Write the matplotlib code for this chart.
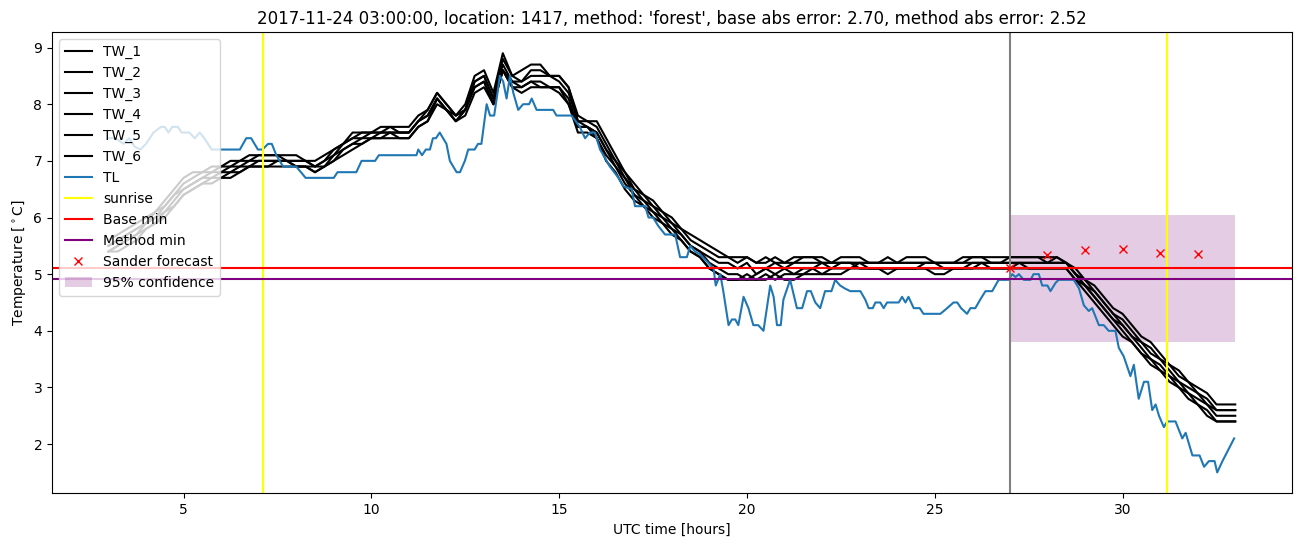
import numpy as np
import matplotlib
matplotlib.use('Agg')
import matplotlib.pyplot as plt

# water temperature sensors, sampled every 15 minutes (UTC hours)
tw_hours = np.arange(3.0, 33.01, 0.25)

tw_1 = [5.6, 5.7, 5.8, 5.9, 6.0, 6.1, 6.3, 6.5, 6.7, 6.8, 6.8, 6.9, 6.9,
        7.0, 7.0, 7.1, 7.1, 7.1, 7.1, 7.1, 7.1, 7.0, 7.0, 7.1,
        7.2, 7.3, 7.5, 7.5, 7.5, 7.6, 7.6, 7.6, 7.6,
        7.8, 7.9, 8.2, 8.0, 7.8, 8.0, 8.5, 8.6, 8.2, 8.9, 8.5, 8.6, 8.7, 8.7, 8.5, 8.5, 8.3,
        7.8, 7.7, 7.7, 7.4, 7.1, 6.8, 6.6, 6.4, 6.3, 6.1, 6.0, 5.8, 5.7, 5.6, 5.5, 5.4, 5.3,
        5.3, 5.3, 5.2, 5.3, 5.2, 5.2, 5.3, 5.3, 5.3, 5.3, 5.2, 5.3, 5.3, 5.3, 5.2, 5.2, 5.2, 5.2,
        5.3, 5.3, 5.3, 5.2, 5.2, 5.2, 5.3, 5.3, 5.3, 5.3, 5.3, 5.3, 5.3, 5.3, 5.3, 5.3, 5.3, 5.2,
        5.1, 4.9, 4.8, 4.6, 4.4, 4.3, 4.1, 3.9, 3.8, 3.6, 3.4, 3.3, 3.1, 3.0, 2.9, 2.7, 2.7, 2.7]
tw_2 = [5.5, 5.6, 5.7, 5.8, 5.9, 6.1, 6.2, 6.4, 6.6, 6.7, 6.8, 6.8, 6.9,
        6.9, 7.0, 7.0, 7.1, 7.1, 7.1, 7.0, 7.0, 7.0, 6.9, 7.0,
        7.2, 7.3, 7.4, 7.5, 7.5, 7.5, 7.6, 7.5, 7.5,
        7.7, 7.9, 8.2, 8.0, 7.8, 7.9, 8.4, 8.5, 8.1, 8.8, 8.5, 8.4, 8.6, 8.6, 8.5, 8.5, 8.3,
        7.7, 7.7, 7.6, 7.3, 7.0, 6.8, 6.5, 6.4, 6.2, 6.1, 5.9, 5.8, 5.6, 5.5, 5.4, 5.3, 5.3,
        5.2, 5.3, 5.2, 5.2, 5.3, 5.2, 5.2, 5.3, 5.3, 5.2, 5.2, 5.2, 5.2, 5.2, 5.2, 5.2, 5.3, 5.2,
        5.2, 5.2, 5.2, 5.2, 5.2, 5.2, 5.2, 5.3, 5.3, 5.2, 5.2, 5.3, 5.3, 5.3, 5.3, 5.2, 5.3, 5.2,
        5.0, 4.9, 4.7, 4.5, 4.3, 4.2, 4.0, 3.8, 3.7, 3.5, 3.4, 3.2, 3.1, 2.9, 2.8, 2.6, 2.6, 2.6]
tw_3 = [5.5, 5.6, 5.7, 5.8, 5.9, 6.0, 6.2, 6.4, 6.5, 6.6, 6.7, 6.8, 6.8,
        6.9, 6.9, 7.0, 7.0, 7.0, 7.0, 7.0, 7.0, 7.0, 6.9, 7.0,
        7.1, 7.3, 7.4, 7.4, 7.5, 7.5, 7.5, 7.5, 7.5,
        7.7, 7.8, 8.1, 7.9, 7.8, 7.9, 8.4, 8.5, 8.1, 8.7, 8.4, 8.4, 8.5, 8.5, 8.5, 8.4, 8.2,
        7.7, 7.6, 7.5, 7.2, 7.0, 6.7, 6.5, 6.3, 6.2, 6.0, 5.9, 5.7, 5.5, 5.4, 5.3, 5.2, 5.2,
        5.1, 5.2, 5.0, 5.1, 5.2, 5.1, 5.2, 5.2, 5.2, 5.2, 5.2, 5.2, 5.2, 5.2, 5.2, 5.2, 5.2, 5.2,
        5.2, 5.2, 5.2, 5.2, 5.2, 5.2, 5.2, 5.2, 5.2, 5.2, 5.2, 5.2, 5.2, 5.2, 5.2, 5.2, 5.2, 5.2,
        5.0, 4.8, 4.7, 4.5, 4.3, 4.1, 3.9, 3.8, 3.6, 3.5, 3.3, 3.1, 3.0, 2.9, 2.7, 2.6, 2.6, 2.6]
tw_4 = [5.4, 5.5, 5.6, 5.7, 5.9, 6.0, 6.1, 6.3, 6.5, 6.6, 6.7, 6.7, 6.8,
        6.8, 6.9, 6.9, 7.0, 7.0, 7.0, 7.0, 6.9, 6.9, 6.8, 6.9,
        7.1, 7.2, 7.3, 7.4, 7.4, 7.5, 7.5, 7.5, 7.5,
        7.7, 7.8, 8.1, 7.9, 7.7, 7.9, 8.3, 8.4, 8.0, 8.6, 8.4, 8.3, 8.4, 8.4, 8.3, 8.3, 8.1,
        7.6, 7.6, 7.5, 7.2, 6.9, 6.7, 6.4, 6.3, 6.1, 6.0, 5.8, 5.7, 5.5, 5.4, 5.2, 5.1, 5.0,
        5.0, 4.9, 5.0, 5.1, 5.0, 5.1, 5.0, 5.1, 5.1, 5.2, 5.1, 5.2, 5.2, 5.1, 5.1, 5.1, 5.1, 5.1,
        5.1, 5.1, 5.2, 5.2, 5.1, 5.1, 5.1, 5.2, 5.2, 5.2, 5.2, 5.2, 5.2, 5.2, 5.2, 5.2, 5.2, 5.2,
        5.0, 4.8, 4.6, 4.4, 4.2, 4.1, 3.9, 3.7, 3.5, 3.4, 3.2, 3.1, 2.9, 2.8, 2.7, 2.5, 2.5, 2.5]
tw_5 = [5.4, 5.5, 5.6, 5.7, 5.8, 5.9, 6.1, 6.2, 6.4, 6.5, 6.6, 6.7, 6.7,
        6.8, 6.8, 6.9, 6.9, 6.9, 7.0, 7.0, 6.9, 6.9, 6.9, 6.9,
        7.0, 7.2, 7.3, 7.3, 7.4, 7.4, 7.5, 7.4, 7.4,
        7.6, 7.7, 8.1, 7.9, 7.7, 7.9, 8.3, 8.4, 8.0, 8.6, 8.3, 8.3, 8.4, 8.3, 8.3, 8.3, 8.0,
        7.6, 7.6, 7.4, 7.1, 6.9, 6.6, 6.4, 6.2, 6.1, 5.9, 5.8, 5.6, 5.4, 5.3, 5.1, 5.0, 4.9,
        4.9, 5.0, 4.9, 5.0, 4.9, 5.0, 5.0, 5.0, 5.1, 5.0, 5.1, 5.1, 5.1, 5.2, 5.1, 5.1, 5.1, 5.1,
        5.1, 5.1, 5.1, 5.1, 5.1, 5.1, 5.1, 5.1, 5.2, 5.1, 5.1, 5.1, 5.2, 5.1, 5.1, 5.1, 5.1, 5.1,
        4.9, 4.8, 4.6, 4.4, 4.2, 4.0, 3.8, 3.6, 3.5, 3.3, 3.2, 3.0, 2.9, 2.7, 2.6, 2.4, 2.4, 2.4]
tw_6 = [5.4, 5.4, 5.5, 5.6, 5.8, 5.9, 6.0, 6.2, 6.4, 6.5, 6.6, 6.6, 6.7,
        6.7, 6.8, 6.9, 6.9, 6.9, 6.9, 6.9, 6.9, 6.9, 6.8, 6.9,
        7.0, 7.1, 7.2, 7.3, 7.4, 7.4, 7.4, 7.4, 7.4,
        7.6, 7.7, 8.0, 7.9, 7.7, 7.8, 8.2, 8.3, 8.0, 8.6, 8.3, 8.2, 8.3, 8.3, 8.3, 8.2, 8.0,
        7.5, 7.5, 7.4, 7.0, 6.8, 6.5, 6.3, 6.2, 6.0, 5.9, 5.7, 5.6, 5.4, 5.3, 5.1, 5.0, 4.9,
        4.9, 4.9, 4.9, 4.9, 5.0, 4.9, 4.9, 5.0, 5.0, 5.0, 5.0, 5.0, 5.1, 5.1, 5.1, 5.1, 5.0, 5.1,
        5.1, 5.1, 5.1, 5.0, 5.0, 5.1, 5.1, 5.1, 5.1, 5.1, 5.1, 5.1, 5.1, 5.1, 5.1, 5.1, 5.1, 5.1,
        4.9, 4.7, 4.5, 4.3, 4.1, 3.9, 3.8, 3.6, 3.4, 3.3, 3.1, 3.0, 2.8, 2.7, 2.5, 2.4, 2.4, 2.4]

tl_hours = [3.0, 3.2, 3.4, 3.55, 3.7, 3.85, 4.0, 4.2, 4.4, 4.5, 4.6, 4.7, 4.85, 4.95, 5.15, 5.3,
            5.43, 5.55, 5.75, 6.5, 6.67, 6.8, 6.98, 7.1, 7.25, 7.35, 7.47, 7.65, 8.0, 8.25, 9.0,
            9.1, 9.6, 9.74, 10.1, 10.2, 11.2, 11.25, 11.35, 11.45, 11.56, 11.64, 11.72, 11.82,
            12.0, 12.09, 12.27, 12.36, 12.49, 12.58, 12.75, 12.84, 12.93, 13.07, 13.16, 13.27,
            13.38, 13.42, 13.51, 13.6, 13.69, 13.78, 13.91, 14.04, 14.2, 14.27, 14.4, 14.84,
            14.93, 15.33, 15.55, 15.69, 15.82, 15.95, 16.09, 16.35, 16.58, 16.71, 16.93, 17.02,
            17.29, 17.38, 17.5, 17.64, 17.82, 18.09, 18.22, 18.4, 18.49, 18.62, 18.75, 18.97,
            19.11, 19.17, 19.29, 19.37, 19.51, 19.6, 19.69, 19.77, 19.91, 20.04, 20.17, 20.3,
            20.44, 20.62, 20.71, 20.8, 20.9, 20.97, 21.15, 21.33, 21.47, 21.6, 21.7, 21.82,
            21.95, 22.08, 22.25, 22.35, 22.48, 22.6, 22.75, 22.9, 23.02, 23.15, 23.24, 23.35,
            23.42, 23.55, 23.64, 23.73, 24.04, 24.13, 24.22, 24.3, 24.44, 24.6, 24.7, 25.15,
            25.33, 25.5, 25.6, 25.7, 25.86, 25.95, 26.08, 26.21, 26.35, 26.53, 26.7, 26.97,
            27.06, 27.15, 27.24, 27.37, 27.55, 27.63, 27.77, 27.86, 28.0, 28.08, 28.22, 28.3,
            28.7, 28.84, 28.97, 29.1, 29.19, 29.37, 29.5, 29.63, 29.81, 29.9, 30.03, 30.21,
            30.3, 30.43, 30.57, 30.68, 30.79, 30.88, 30.97, 31.1, 31.19, 31.41, 31.59, 31.68,
            31.86, 32.05, 32.17, 32.3, 32.45, 32.52, 32.66, 32.97]
tl = [7.4, 7.4, 7.3, 7.4, 7.25, 7.2, 7.3, 7.5, 7.6, 7.6, 7.5, 7.6, 7.6, 7.5, 7.5, 7.4,
      7.5, 7.4, 7.2, 7.2, 7.4, 7.4, 7.2, 7.2, 7.3, 7.3, 7.1, 6.9, 6.9, 6.7, 6.7,
      6.8, 6.8, 7.0, 7.0, 7.1, 7.1, 7.2, 7.1, 7.2, 7.2, 7.4, 7.4, 7.5,
      7.3, 7.0, 6.8, 6.8, 7.0, 7.2, 7.2, 7.3, 7.3, 8.0, 7.8, 7.8,
      8.3, 8.5, 8.4, 8.1, 8.5, 8.2, 7.9, 8.0, 8.0, 8.1, 7.9, 7.9,
      7.8, 7.8, 7.6, 7.4, 7.5, 7.5, 7.2, 6.9, 6.7, 6.55, 6.5, 6.2,
      6.2, 6.0, 6.0, 5.85, 5.7, 5.7, 5.3, 5.3, 5.5, 5.4, 5.35, 5.2,
      5.1, 4.8, 5.0, 4.7, 4.1, 4.2, 4.2, 4.1, 4.6, 4.4, 4.1, 4.1,
      4.0, 4.8, 4.6, 4.1, 4.1, 4.55, 4.9, 4.4, 4.4, 4.7, 4.7, 4.5,
      4.4, 4.7, 4.7, 4.9, 4.8, 4.75, 4.7, 4.7, 4.7, 4.55, 4.4, 4.4,
      4.5, 4.5, 4.4, 4.5, 4.5, 4.6, 4.5, 4.6, 4.4, 4.4, 4.3, 4.3,
      4.4, 4.5, 4.5, 4.4, 4.3, 4.4, 4.4, 4.55, 4.7, 4.7, 4.9, 4.9,
      5.0, 4.95, 5.0, 4.9, 4.9, 5.0, 5.0, 4.8, 4.8, 4.7, 4.85, 4.9,
      4.9, 4.75, 4.45, 4.35, 4.4, 4.1, 4.1, 4.0, 4.0, 3.7, 3.55, 3.2,
      3.4, 2.8, 3.1, 3.1, 2.6, 2.7, 2.5, 2.3, 2.4, 2.4, 2.1, 2.2,
      1.8, 1.8, 1.6, 1.7, 1.7, 1.5, 1.7, 2.1]

sunrise_hours = [7.12, 31.17]
forecast_start = 27.0
base_min = 5.11
method_min = 4.92

forecast_hours = [27, 28, 29, 30, 31, 32]
forecast = [5.11, 5.33, 5.42, 5.44, 5.38, 5.36]
conf_hours = [27.0, 33.0]
conf_low = 3.81
conf_high = 6.04

title = ("2017-11-24 03:00:00, location: 1417, method: 'forest', "
         "base abs error: 2.70, method abs error: 2.52")

fig, ax = plt.subplots(figsize=(13.02, 5.47), dpi=100)

for i, tw in enumerate([tw_1, tw_2, tw_3, tw_4, tw_5, tw_6]):
    ax.plot(tw_hours, tw, color='black', label=f'TW_{i + 1}')
ax.plot(tl_hours, tl, label='TL')

for j, h in enumerate(sunrise_hours):
    ax.axvline(h, color='yellow', label='sunrise' if j == 0 else None)
ax.axvline(forecast_start, color='grey')

ax.axhline(base_min, color='red', label='Base min')
ax.axhline(method_min, color='purple', label='Method min')
ax.plot(forecast_hours, forecast, 'rx', label='Sander forecast')
ax.fill_between(conf_hours, conf_low, conf_high, color='purple', alpha=0.2,
                linewidth=0, label='95% confidence')

ax.set_title(title)
ax.set_xlabel('UTC time [hours]')
ax.set_ylabel(r'Temperature [$^\circ$C]')
ax.legend(loc='upper left')

plt.subplots_adjust(left=0.040, right=0.992, top=0.941, bottom=0.098)
plt.savefig('out.png')
